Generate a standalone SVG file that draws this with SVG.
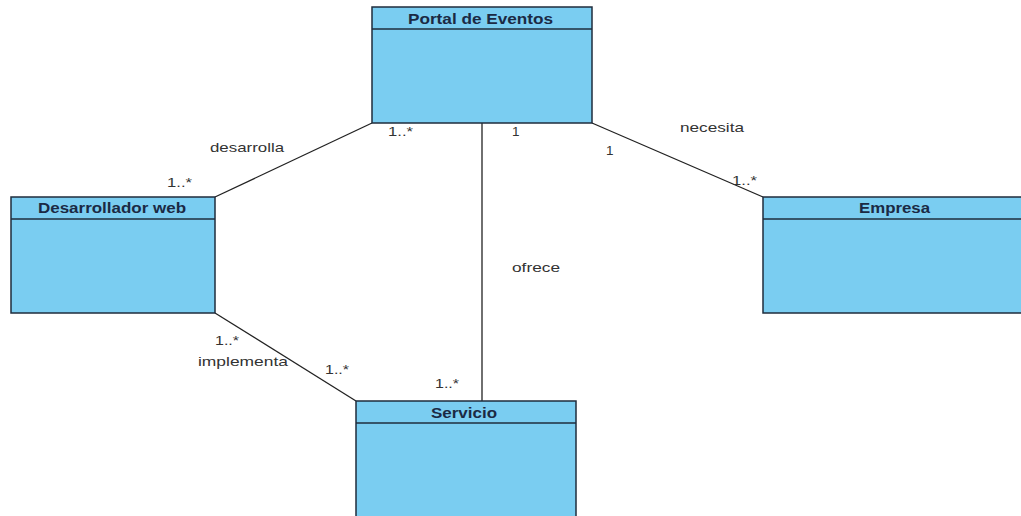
<svg xmlns="http://www.w3.org/2000/svg" width="1021" height="516" viewBox="0 0 1021 516">
<style>
.box{fill:#7acdf1;stroke:#1f2d3d;stroke-width:1.5}
.sep{stroke:#1f2d3d;stroke-width:1.5}
.title{font-family:"Liberation Sans",Arial,sans-serif;font-size:14px;font-weight:bold;fill:#1b2a44}
.lbl{font-family:"Liberation Sans",Arial,sans-serif;font-size:13.5px;fill:#333}
.conn line{stroke:#222;stroke-width:1.3}
</style>
<rect width="1021" height="516" fill="#fff"/>
<g id="connectors" class="conn">
<line x1="372" y1="123" x2="215" y2="197"/>
<line x1="482" y1="123" x2="482" y2="401"/>
<line x1="592" y1="123" x2="763" y2="197"/>
<line x1="215" y1="313" x2="356" y2="401"/>
</g>
<g id="portal">
<rect class="box" x="372" y="7" width="220" height="116"/>
<line class="sep" x1="372" y1="29" x2="592" y2="29"/>
<text class="title" x="408" y="24" textLength="145" lengthAdjust="spacingAndGlyphs">Portal de Eventos</text>
</g>
<g id="desarrollador">
<rect class="box" x="11" y="197" width="204" height="116"/>
<line class="sep" x1="11" y1="219" x2="215" y2="219"/>
<text class="title" x="38" y="213" textLength="148" lengthAdjust="spacingAndGlyphs">Desarrollador web</text>
</g>
<g id="empresa">
<rect class="box" x="763" y="197" width="264" height="116"/>
<line class="sep" x1="763" y1="219" x2="1027" y2="219"/>
<text class="title" x="859" y="213" textLength="71" lengthAdjust="spacingAndGlyphs">Empresa</text>
</g>
<g id="servicio">
<rect class="box" x="356" y="401" width="220" height="125"/>
<line class="sep" x1="356" y1="423" x2="576" y2="423"/>
<text class="title" x="431" y="418" textLength="66" lengthAdjust="spacingAndGlyphs">Servicio</text>
</g>
<g id="labels">
<text class="lbl" x="210" y="152" textLength="74" lengthAdjust="spacingAndGlyphs">desarrolla</text>
<text class="lbl" x="167" y="187" textLength="25" lengthAdjust="spacingAndGlyphs">1..*</text>
<text class="lbl" x="388" y="136" textLength="25" lengthAdjust="spacingAndGlyphs">1..*</text>
<text class="lbl" x="512" y="136">1</text>
<text class="lbl" x="606" y="155">1</text>
<text class="lbl" x="680" y="132" textLength="64" lengthAdjust="spacingAndGlyphs">necesita</text>
<text class="lbl" x="732" y="185" textLength="25" lengthAdjust="spacingAndGlyphs">1..*</text>
<text class="lbl" x="512" y="272" textLength="48" lengthAdjust="spacingAndGlyphs">ofrece</text>
<text class="lbl" x="215" y="345" textLength="24" lengthAdjust="spacingAndGlyphs">1..*</text>
<text class="lbl" x="198" y="366" textLength="90" lengthAdjust="spacingAndGlyphs">implementa</text>
<text class="lbl" x="325" y="374" textLength="24" lengthAdjust="spacingAndGlyphs">1..*</text>
<text class="lbl" x="435" y="388" textLength="24" lengthAdjust="spacingAndGlyphs">1..*</text>
</g>
</svg>
